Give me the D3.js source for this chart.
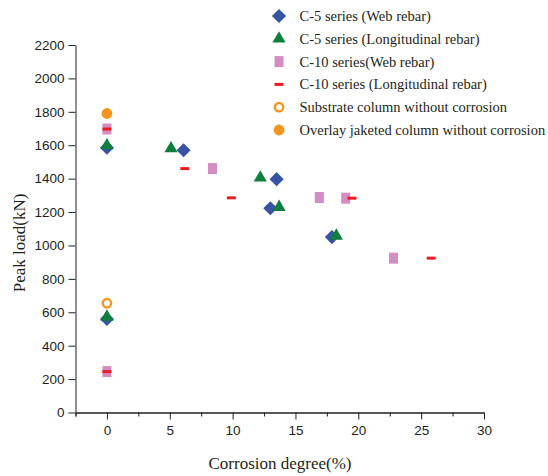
<!DOCTYPE html>
<html>
<head>
<meta charset="utf-8">
<script src="https://cdn.jsdelivr.net/npm/d3@7"></script>
<style>
  body { margin: 0; background: #fff; }
  .axis path, .axis line { stroke: #231f20; stroke-width: 1; }
  .axis text { font-family: "Liberation Sans", Arial, sans-serif; font-size: 13.5px; fill: #231f20; }
  .serif { font-family: "Liberation Serif", "Times New Roman", Times, serif; fill: #231f20; }
</style>
</head>
<body>
<svg id="chart" width="548" height="476"></svg>
<script>
// peak load vs corrosion degree, [corrosion %, load kN]
var c5Web = [[0, 1585], [0, 560], [6.1, 1570], [13.5, 1397], [13.0, 1223], [17.9, 1050]];
var c5Long = [[0, 1598], [0, 572], [5.1, 1580], [12.2, 1405], [13.7, 1229], [18.25, 1057]];
var c10Web = [[0, 1697], [0, 245], [8.4, 1460], [16.9, 1287], [19.0, 1283], [22.8, 924]];
var c10Long = [[0, 1697], [0, 245], [6.2, 1460], [9.9, 1285], [19.5, 1283], [25.8, 924]];
var substrate = [[0, 654]];
var overlay = [[0, 1790]];

var legendLabels = [
    "C-5 series (Web rebar)",
    "C-5 series (Longitudinal rebar)",
    "C-10 series(Web rebar)",
    "C-10 series (Longitudinal rebar)",
    "Substrate column without corrosion",
    "Overlay jaketed column without corrosion"
];
var xMajor = [0, 5, 10, 15, 20, 25, 30];
var xMinor = [-2.5, 2.5, 7.5, 12.5, 17.5, 22.5, 27.5];
var yTicks = [0, 200, 400, 600, 800, 1000, 1200, 1400, 1600, 1800, 2000, 2200];

var svg = d3.select("#chart");

var x = d3.scaleLinear().domain([-2.5, 30]).range([75.5, 484]);
var y = d3.scaleLinear().domain([0, 2200]).range([412.5, 45]);

// axes
svg.append("g")
    .attr("class", "axis")
    .attr("transform", "translate(0,412.5)")
    .call(d3.axisBottom(x).tickValues(xMinor).tickSize(4).tickFormat(""));
svg.append("g")
    .attr("class", "axis")
    .attr("transform", "translate(0,412.5)")
    .call(d3.axisBottom(x).tickValues(xMajor).tickSize(7).tickSizeOuter(0).tickPadding(6));
svg.append("g")
    .attr("class", "axis")
    .attr("transform", "translate(75.5,0)")
    .call(d3.axisLeft(y).tickValues(yTicks).tickSize(7).tickSizeOuter(0).tickPadding(4).tickFormat(d3.format("d")));

// axis titles
svg.append("text")
    .attr("class", "serif")
    .attr("x", 280).attr("y", 469)
    .attr("text-anchor", "middle")
    .style("font-size", "17px")
    .text("Corrosion degree(%)");
svg.append("text")
    .attr("class", "serif")
    .attr("transform", "translate(25,243) rotate(-90)")
    .attr("text-anchor", "middle")
    .style("font-size", "17px")
    .text("Peak load(kN)");

// marker drawers
var blue = "#3953a4", green = "#0f7f3e", pink = "#d38dc2", red = "#ed1c24", orange = "#f7941d";

function diamond(g, cx, cy) {
    g.append("path")
        .attr("d", d3.symbol().type(d3.symbolSquare).size(100)())
        .attr("transform", "translate(" + cx + "," + cy + ") rotate(45)")
        .style("fill", blue);
}
function triangle(g, cx, cy) {
    g.append("path")
        .attr("d", d3.symbol().type(d3.symbolTriangle).size(75)())
        .attr("transform", "translate(" + cx + "," + cy + ")")
        .style("fill", green);
}
function square(g, cx, cy) {
    g.append("rect")
        .attr("x", cx - 4.5).attr("y", cy - 5.5)
        .attr("width", 9).attr("height", 11)
        .style("fill", pink);
}
function dash(g, cx, cy) {
    g.append("rect")
        .attr("x", cx - 4.5).attr("y", cy - 1.5)
        .attr("width", 9).attr("height", 3)
        .style("fill", red);
}
function ring(g, cx, cy) {
    g.append("circle")
        .attr("cx", cx).attr("cy", cy).attr("r", 4.2)
        .style("fill", "none")
        .style("stroke", orange)
        .style("stroke-width", 2.4);
}
function dot(g, cx, cy) {
    g.append("circle")
        .attr("cx", cx).attr("cy", cy).attr("r", 5.4)
        .style("fill", orange);
}

var series = [
    { data: c5Web, draw: diamond },
    { data: c5Long, draw: triangle },
    { data: c10Web, draw: square },
    { data: c10Long, draw: dash },
    { data: substrate, draw: ring },
    { data: overlay, draw: dot }
];

var plot = svg.append("g");
series.forEach(function (s) {
    s.data.forEach(function (d) {
        s.draw(plot, x(d[0]), y(d[1]));
    });
});

// legend
var legend = svg.append("g");
series.forEach(function (s, i) {
    var ly = 16 + i * 22.8;
    s.draw(legend, 279, ly);
    legend.append("text")
        .attr("class", "serif")
        .attr("x", 299.5).attr("y", ly + 5)
        .style("font-size", "14.5px")
        .text(legendLabels[i]);
});
</script>
</body>
</html>
